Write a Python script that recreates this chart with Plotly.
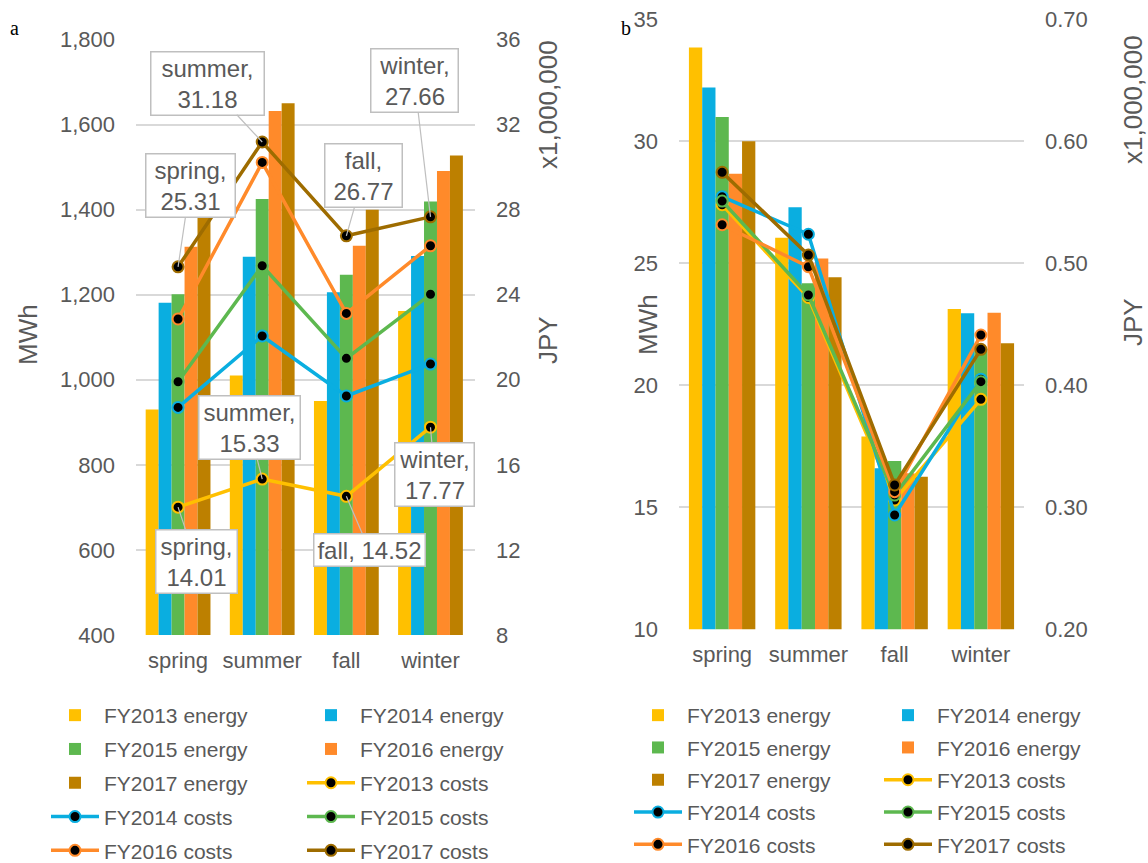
import plotly.graph_objects as go

seasons = ["spring", "summer", "fall", "winter"]
years = ["FY2013", "FY2014", "FY2015", "FY2016", "FY2017"]

# Panel a: energy (MWh) and costs (x1,000,000 JPY)
energy_a_2013 = [930, 1010, 950, 1162]
energy_a_2014 = [1181, 1289, 1206, 1291]
energy_a_2015 = [1201, 1425, 1247, 1419]
energy_a_2016 = [1313, 1632, 1315, 1491]
energy_a_2017 = [1420, 1650, 1400, 1527]

costs_a_2013 = [14.01, 15.33, 14.52, 17.77]
costs_a_2014 = [18.70, 22.06, 19.24, 20.74]
costs_a_2015 = [19.91, 25.36, 21.01, 24.02]
costs_a_2016 = [22.86, 30.22, 23.12, 26.30]
costs_a_2017 = [25.31, 31.18, 26.77, 27.66]

# Panel b
energy_b_2013 = [33.84, 26.05, 17.9, 23.13]
energy_b_2014 = [32.2, 27.3, 16.6, 22.95]
energy_b_2015 = [31.0, 24.18, 16.9, 21.5]
energy_b_2016 = [28.67, 25.2, 16.4, 22.97]
energy_b_2017 = [30.0, 24.43, 16.25, 21.72]

costs_b_2013 = [0.548, 0.472, 0.306, 0.3885]
costs_b_2014 = [0.5546, 0.5238, 0.2937, 0.405]
costs_b_2015 = [0.551, 0.474, 0.310, 0.403]
costs_b_2016 = [0.5316, 0.4972, 0.3128, 0.4412]
costs_b_2017 = [0.5746, 0.5068, 0.3183, 0.4295]

energy_a = [energy_a_2013, energy_a_2014, energy_a_2015, energy_a_2016, energy_a_2017]
costs_a = [costs_a_2013, costs_a_2014, costs_a_2015, costs_a_2016, costs_a_2017]
energy_b = [energy_b_2013, energy_b_2014, energy_b_2015, energy_b_2016, energy_b_2017]
costs_b = [costs_b_2013, costs_b_2014, costs_b_2015, costs_b_2016, costs_b_2017]

# callouts in panel a: (season, value) for FY2017 and FY2013 costs
callouts_top = list(zip(seasons, costs_a_2017))
callouts_bottom = list(zip(seasons, costs_a_2013))

bar_colors = ["#FFC000", "#0AAEE0", "#5DB84F", "#FF8A2A", "#BD8000"]
line_colors = ["#FFC000", "#0AAEE0", "#5DB84F", "#FF8A2A", "#9E6C00"]

FONT = "Liberation Sans, Arial, sans-serif"
GREY = "#595959"

W, H = 1148, 863

def px(x):
    return x / W

def py(y):
    return 1 - y / H

fig = go.Figure()

def col_of_energy(i):
    return 0 if i % 2 == 0 else 1

def col_of_cost(i):
    return 1 if i % 2 == 0 else 0

panels = [
    dict(energy=energy_a, costs=costs_a, x="x", y="y", y2="y2", legends=["legend", "legend2"]),
    dict(energy=energy_b, costs=costs_b, x="x2", y="y3", y2="y4", legends=["legend3", "legend4"]),
]

for p_i, p in enumerate(panels):
    for i, yr in enumerate(years):
        fig.add_trace(go.Bar(
            x=seasons, y=p["energy"][i], name=f"{yr} energy",
            marker=dict(color=bar_colors[i], line=dict(width=0)),
            xaxis=p["x"], yaxis=p["y"],
            legend=p["legends"][col_of_energy(i)],
            legendgroup=f"p{p_i}e{i}",
        ))
    for i, yr in enumerate(years):
        fig.add_trace(go.Scatter(
            x=seasons, y=p["costs"][i], name=f"{yr} costs", mode="lines+markers",
            line=dict(color=line_colors[i], width=3.5),
            marker=dict(color="black", size=11, line=dict(color=line_colors[i], width=2)),
            xaxis=p["x"], yaxis=p["y2"],
            legend=p["legends"][col_of_cost(i)],
            legendgroup=f"p{p_i}c{i}",
        ))

xa = [px(136), px(475)]
xb = [px(679), px(1024)]
ya = [py(635), py(39.5)]
yb = [py(629.3), py(19.3)]

tickfont = dict(family=FONT, size=22, color=GREY)
grid = "#D9D9D9"

common_x = dict(type="category", showline=False, showgrid=False, zeroline=False,
                tickfont=tickfont, ticks="", ticklabelstandoff=10, automargin=False)
common_y = dict(showline=False, zeroline=False, tickfont=tickfont, ticks="", automargin=False)

fig.update_layout(
    width=W, height=H,
    margin=dict(l=0, r=0, t=0, b=0, autoexpand=False),
    paper_bgcolor="white", plot_bgcolor="white",
    barmode="group", bargap=0.23, bargroupgap=0,
    showlegend=True,
    xaxis=dict(domain=xa, anchor="y", **common_x),
    xaxis2=dict(domain=xb, anchor="y3", **common_x),
    yaxis=dict(domain=ya, anchor="x", range=[400, 1800], dtick=200, tickformat=",",
               showgrid=True, gridcolor=grid, gridwidth=1.5, ticklabelstandoff=20, **common_y),
    yaxis2=dict(domain=ya, anchor="x", overlaying="y", side="right", range=[8, 36], dtick=4,
                showgrid=False, ticklabelstandoff=20, **common_y),
    yaxis3=dict(domain=yb, anchor="x2", range=[10, 35.0001], dtick=5,
                showgrid=True, gridcolor=grid, gridwidth=1.5, ticklabelstandoff=20, **common_y),
    yaxis4=dict(domain=yb, anchor="x2", overlaying="y3", side="right", range=[0.2, 0.70001], dtick=0.1,
                tickformat=".2f", showgrid=False, ticklabelstandoff=20, **common_y),
    font=dict(family=FONT, color=GREY),
)

legend_common = dict(orientation="v", xanchor="left", yanchor="top", bgcolor="rgba(0,0,0,0)",
                     font=dict(family=FONT, size=21, color=GREY), itemwidth=48,
                     traceorder="grouped", itemclick=False, itemdoubleclick=False)
leg_top = py(695)
fig.update_layout(
    legend=dict(x=px(46), y=leg_top, tracegroupgap=3.5, **legend_common),
    legend2=dict(x=px(302), y=leg_top, tracegroupgap=3.5, **legend_common),
    legend3=dict(x=px(629), y=leg_top, tracegroupgap=2, **legend_common),
    legend4=dict(x=px(879), y=leg_top, tracegroupgap=2, **legend_common),
)

# callout annotations in panel a
box_style = dict(showarrow=True, arrowhead=0, arrowwidth=1.2, arrowcolor="#BFBFBF",
                 bordercolor="#BFBFBF", borderwidth=1.5, borderpad=2, bgcolor="white",
                 font=dict(family=FONT, size=24, color=GREY), xref="x", yref="y2", standoff=0)
# (ax, ay, box width)
offsets_top = {"spring": (12, -81, 84), "summer": (-55, -59, 108), "fall": (17, -60, 72), "winter": (-16, -136, 82)}
offsets_bottom = {"spring": (18, 54, 76), "summer": (-13, -52, 96), "fall": (23, 54, 106), "winter": (4, 47, 74)}
for s, v in callouts_top:
    ax, ay, w = offsets_top[s]
    fig.add_annotation(x=s, y=v, text=f"{s},<br>{v:.2f}", ax=ax, ay=ay, width=w, **box_style)
for s, v in callouts_bottom:
    ax, ay, w = offsets_bottom[s]
    txt = f"{s}, {v:.2f}" if s == "fall" else f"{s},<br>{v:.2f}"
    fig.add_annotation(x=s, y=v, text=txt, ax=ax, ay=ay, width=w, **box_style)

# axis titles and panel labels
def title(text, x, y):
    fig.add_annotation(text=text, x=px(x), y=py(y), xref="paper", yref="paper",
                       xanchor="center", yanchor="middle",
                       showarrow=False, textangle=-90,
                       font=dict(family=FONT, size=26, color=GREY))

title("MWh", 28, 335)
title("JPY", 548, 340)
title("x1,000,000", 548, 105)
title("MWh", 648, 325)
title("JPY", 1133, 322)
title("x1,000,000", 1133, 100)

for lab, x in [("a", 14), ("b", 626)]:
    fig.add_annotation(text=lab, x=px(x), y=py(28), xref="paper", yref="paper",
                       xanchor="center", yanchor="middle", showarrow=False,
                       font=dict(family="Liberation Serif, Times New Roman, serif",
                                 size=20, color="black"))

# remove the default 8px page margin so the figure fills the window exactly
page_fix = ("document.body.style.margin='0';document.body.style.padding='0';"
            "document.body.style.overflow='hidden';"
            "document.documentElement.style.overflow='hidden';")

fig.write_html("out.html", post_script=page_fix, config={"displayModeBar": False})
